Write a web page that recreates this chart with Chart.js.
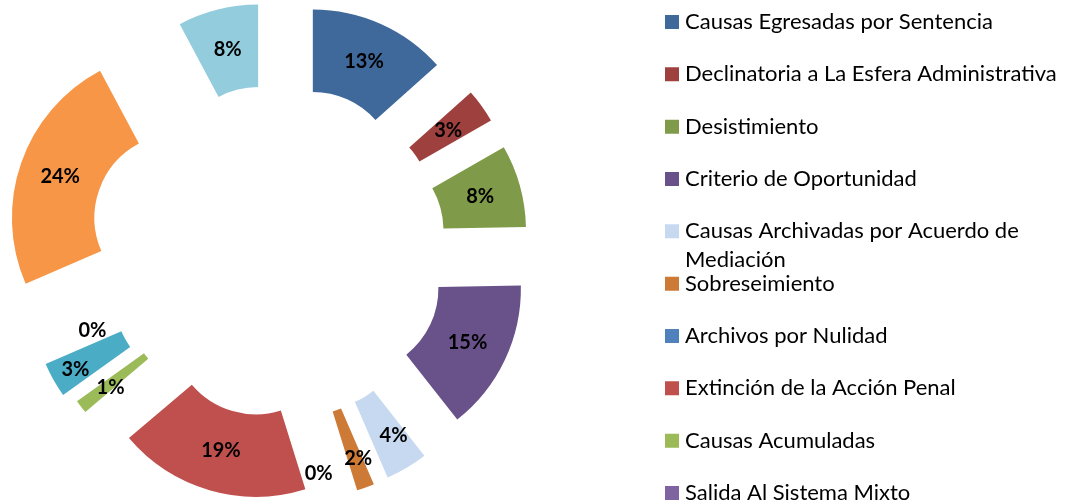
<!DOCTYPE html>
<html>
<head>
<meta charset="utf-8">
<script src="https://cdn.jsdelivr.net/npm/chart.js@4.4.1/dist/chart.umd.min.js"></script>
<style>
  html, body { margin: 0; padding: 0; background: #ffffff; overflow: hidden; }
  #wrap { position: relative; width: 1069px; height: 504px; overflow: hidden; }
  #chart { position: absolute; left: -83px; top: -60px; }
</style>
</head>
<body>
<div id="wrap"><canvas id="chart" width="1200" height="626"></canvas></div>
<script>
// ---- data ----
const categories = [
  'Causas Egresadas por Sentencia',
  'Declinatoria a La Esfera Administrativa',
  'Desistimiento',
  'Criterio de Oportunidad',
  'Causas Archivadas por Acuerdo de Mediación',
  'Sobreseimiento',
  'Archivos por Nulidad',
  'Extinción de la Acción Penal',
  'Causas Acumuladas',
  'Salida Al Sistema Mixto',
  'Categoría 11',
  'Categoría 12',
  'Categoría 13'
];
const values = [13.4, 3.3, 8.0, 14.7, 4.1, 1.7, 0, 18.6, 1.3, 0, 3.4, 23.7, 7.8];

// ---- styles ----
const sliceColors = ['#40699B', '#9E413E', '#7F9B49', '#69528A', '#C6D9F1', '#CD7A37',
                     '#4F81BD', '#C0504D', '#9BBB59', '#8064A2', '#4BACC6', '#F79646', '#93CDDD'];
const explodeDistance = [84, 84, 84, 84, 84, 84, 84, 81, 84, 84, 92, 106, 84];
const labelShift = {4: [8, 3], 5: [7, 10], 6: [-22, 21], 8: [-3, 6], 9: [-16, -44], 10: [-14, 10]};
const legendVisibleCount = 10;
const legendFont = {family: 'Lato', size: 22};
const legendPadding = 30.33;
const legendBox = 4;
const legendWrapWidth = 400;
const legendLineGap = 29;
const legendLeft = 722.67;          // left edge of the legend box inside the canvas
const labelFont = 'bold 20px Lato';

function wrapText(ctx, text, maxW) {
  const words = text.split(' ');
  const lines = [];
  let cur = '';
  words.forEach(w => {
    const test = cur ? cur + ' ' + w : w;
    if (cur && ctx.measureText(test).width > maxW) { lines.push(cur); cur = w; }
    else { cur = test; }
  });
  if (cur) lines.push(cur);
  return lines;
}

// draws each library arc shifted outward along its bisector (exploded doughnut)
const explodePlugin = {
  id: 'explodeSlices',
  beforeDatasetDraw(chart, args) {
    const ctx = chart.ctx;
    args.meta.data.forEach((arc, i) => {
      const p = arc.getProps(['startAngle', 'endAngle'], true);
      const mid = (p.startAngle + p.endAngle) / 2;
      const d = explodeDistance[i] || 0;
      ctx.save();
      ctx.translate(Math.cos(mid) * d, Math.sin(mid) * d);
      arc.draw(ctx);
      ctx.restore();
    });
    return false;
  }
};

// percentage labels at the centre of each exploded slice
const labelPlugin = {
  id: 'sliceLabels',
  afterDatasetsDraw(chart) {
    const ctx = chart.ctx;
    const meta = chart.getDatasetMeta(0);
    const data = chart.data.datasets[0].data;
    const total = data.reduce((a, b) => a + b, 0);
    ctx.save();
    ctx.font = labelFont;
    ctx.fillStyle = '#000000';
    ctx.textAlign = 'center';
    ctx.textBaseline = 'middle';
    meta.data.forEach((arc, i) => {
      const p = arc.getProps(['x', 'y', 'startAngle', 'endAngle', 'innerRadius', 'outerRadius'], true);
      const mid = (p.startAngle + p.endAngle) / 2;
      const r = (explodeDistance[i] || 0) + (p.innerRadius + p.outerRadius) / 2;
      const sh = labelShift[i] || [0, 0];
      const txt = Math.round(data[i] / total * 100) + '%';
      ctx.fillText(txt, p.x + Math.cos(mid) * r + sh[0], p.y + Math.sin(mid) * r + sh[1]);
    });
    ctx.restore();
  }
};

// continuation lines of wrapped legend entries
const legendWrapPlugin = {
  id: 'legendWrap',
  afterDraw(chart) {
    const lg = chart.legend;
    if (!lg || !lg.legendItems) return;
    const ctx = chart.ctx;
    ctx.save();
    ctx.font = legendFont.size + 'px ' + legendFont.family;
    ctx.fillStyle = '#000000';
    ctx.textAlign = 'left';
    ctx.textBaseline = 'middle';
    lg.legendItems.forEach((it, k) => {
      if (!it.extraLines || !it.extraLines.length) return;
      const hb = lg.legendHitBoxes[k];
      it.extraLines.forEach((line, j) => {
        ctx.fillText(line, hb.left + legendBox + legendFont.size / 2,
                     hb.top + legendFont.size / 2 + (j + 1) * legendLineGap);
      });
    });
    ctx.restore();
  }
};

function build() {
  Chart.defaults.font.family = 'Lato';
  const canvas = document.getElementById('chart');
  // width the legend will take, so that its box starts at legendLeft
  const mctx = document.createElement('canvas').getContext('2d');
  mctx.font = legendFont.size + 'px ' + legendFont.family;
  const maxTextW = Math.max(...categories.slice(0, legendVisibleCount)
    .map(c => mctx.measureText(wrapText(mctx, c, legendWrapWidth)[0]).width));
  const legendWidth = legendPadding + legendBox + legendFont.size / 2 + maxTextW + 10;
  const rightPad = Math.max(canvas.width - legendLeft - legendWidth, 0);

  new Chart(canvas, {
    type: 'doughnut',
    data: {
      labels: categories,
      datasets: [{
        data: values,
        backgroundColor: sliceColors,
        borderWidth: 0
      }]
    },
    options: {
      responsive: false,
      animation: false,
      events: [],
      radius: 166.5,
      cutout: '50.45%',
      layout: { padding: { left: 0.33, right: rightPad, top: 0, bottom: 0.8 } },
      plugins: {
        tooltip: { enabled: false },
        legend: {
          position: 'right',
          align: 'start',
          title: { display: true, text: ' ', padding: { top: 30.67, bottom: 0 }, font: { size: 10, lineHeight: 1 } },
          labels: {
            boxWidth: legendBox,
            boxHeight: legendBox,
            padding: legendPadding,
            color: '#000000',
            font: legendFont,
            filter: (item) => item.index < legendVisibleCount,
            generateLabels(chart) {
              const ds = chart.data.datasets[0];
              const ctx = chart.ctx;
              ctx.save();
              ctx.font = legendFont.size + 'px ' + legendFont.family;
              const items = chart.data.labels.map((label, i) => {
                const lines = wrapText(ctx, label, legendWrapWidth);
                return {
                  text: lines[0],
                  extraLines: lines.slice(1),
                  fillStyle: ds.backgroundColor[i],
                  strokeStyle: ds.backgroundColor[i],
                  lineWidth: 10,
                  fontColor: '#000000',
                  hidden: false,
                  index: i
                };
              });
              ctx.restore();
              return items;
            }
          }
        }
      }
    },
    plugins: [explodePlugin, labelPlugin, legendWrapPlugin]
  });
}

if (document.fonts && document.fonts.load) {
  Promise.all([document.fonts.load('22px Lato'), document.fonts.load('bold 20px Lato')])
    .then(build, build);
} else {
  build();
}
</script>
</body>
</html>
